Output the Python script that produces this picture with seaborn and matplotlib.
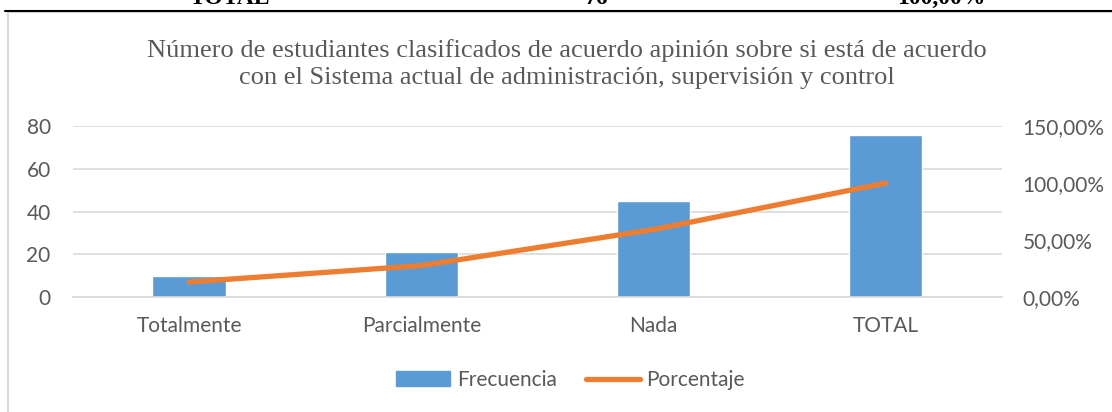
import matplotlib
matplotlib.use("Agg")
import matplotlib.pyplot as plt
import matplotlib.patches as mpatches
from matplotlib.lines import Line2D
import seaborn as sns
import pandas as pd

# Data
categorias = ["Totalmente", "Parcialmente", "Nada", "TOTAL"]
frecuencia = [10, 21, 45, 76]
porcentaje = [13.16, 27.63, 59.21, 100.00]
ticks_izq = [0, 20, 40, 60, 80]
ticks_der = [0, 50, 100, 150]
ticks_der_txt = ["0,00%", "50,00%", "100,00%", "150,00%"]

titulo = ("Número de estudiantes clasificados de acuerdo apinión sobre si está de acuerdo\n"
          "con el Sistema actual de administración, supervisión y control")

sns.set_style("white")
plt.rcParams['font.family'] = ['Lato', 'DejaVu Sans']

azul = '#5B9BD5'
naranja = '#ED7D31'
gris_txt = '#595959'
gris_linea = '#D9D9D9'

df = pd.DataFrame({'Categoria': categorias, 'Frecuencia': frecuencia, 'Porcentaje': porcentaje})

fig = plt.figure(figsize=(11.12, 4.12), dpi=100)
ax = fig.add_axes([0.0656, 0.279, 0.8354, 0.415])

sns.barplot(data=df, x='Categoria', y='Frecuencia', color=azul, width=0.315,
            saturation=1, ax=ax, zorder=2)
ax.set_xlim(-0.5, 3.5)
ax.set_ylim(0, 80)
ax.set_yticks(ticks_izq)
ax.set_xlabel("")
ax.set_ylabel("")
ax.grid(axis='y', color=gris_linea, linewidth=1.2, zorder=0)
ax.set_axisbelow(True)
for s in ['top', 'right', 'left']:
    ax.spines[s].set_visible(False)
ax.spines['bottom'].set_color(gris_linea)
ax.spines['bottom'].set_linewidth(1.2)
ax.tick_params(axis='y', length=0, pad=16, labelsize=15, labelcolor=gris_txt)
ax.tick_params(axis='x', length=0, pad=14, labelsize=15, labelcolor=gris_txt)

ax2 = ax.twinx()
sns.lineplot(x=list(range(len(categorias))), y=porcentaje, color=naranja, linewidth=3.8,
             solid_capstyle='round', ax=ax2)
ax2.set_ylim(0, 150)
ax2.set_yticks(ticks_der)
ax2.set_yticklabels(ticks_der_txt)
ax2.tick_params(axis='y', length=0, pad=15, labelsize=15, labelcolor=gris_txt)
for s in ax2.spines.values():
    s.set_visible(False)
ax2.grid(False)

fig.text(0.51, 0.845, titulo, ha='center', va='center', fontsize=19,
         family='Liberation Serif', color=gris_txt, linespacing=1.27)

handles = [mpatches.Patch(color=azul, label='Frecuencia'),
           Line2D([0], [0], color=naranja, linewidth=3.8, solid_capstyle='round', label='Porcentaje')]
fig.legend(handles=handles, loc='center', bbox_to_anchor=(0.513, 0.078), ncol=2, frameon=False,
           fontsize=15, labelcolor=gris_txt, handlelength=2.6, handletextpad=0.3,
           columnspacing=1.4)

# chart frame and the cut-off table row above it
fig.add_artist(mpatches.Rectangle((8 / 1112, -0.05), 1.1, 1 - 12 / 412 + 0.05,
                                  transform=fig.transFigure, fill=False,
                                  edgecolor=gris_linea, linewidth=1.5, clip_on=False))
fig.add_artist(Line2D([5 / 1112, 1.0], [1 - 11 / 412, 1 - 11 / 412], transform=fig.transFigure,
                      color='black', linewidth=1.5))
for txt, xc in [("TOTAL", 230), ("76", 596), ("100,00%", 941)]:
    fig.text(xc / 1112, 1 - 4 / 412, txt, ha='center', va='baseline', fontsize=17,
             family='Liberation Serif', fontweight='bold', color='black')

fig.savefig("out.png", dpi=100)
